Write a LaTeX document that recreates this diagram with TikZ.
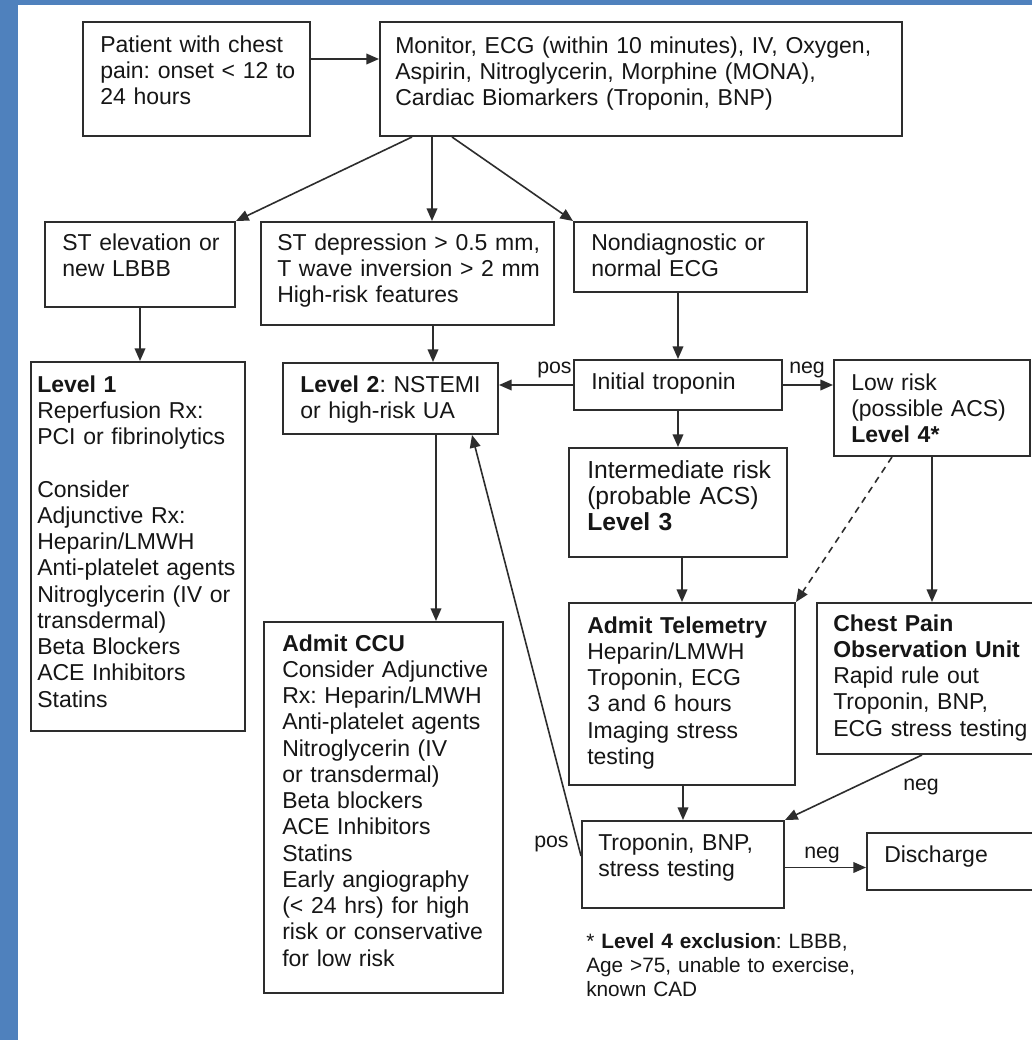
\documentclass[tikz,border=0pt]{standalone}
\usepackage{fontspec}
\setmainfont{Liberation Sans}
\usetikzlibrary{arrows.meta,calc,fit}
\definecolor{frameblue}{RGB}{79,129,189}
\definecolor{ink}{RGB}{22,22,22}
\definecolor{edge}{RGB}{45,45,45}
\frenchspacing
\begin{document}
\begin{tikzpicture}[x=0.75pt,y=-0.75pt,
  box/.style={draw=edge,line width=1.5pt,inner sep=0pt},
  txt/.style={anchor=base west,inner sep=0pt,align=left,text=ink,text width=#1,
    font=\fontsize{17.25pt}{19.7pt}\selectfont},
  bigtxt/.style={txt=#1,font=\fontsize{18.5pt}{19.6pt}\selectfont},
  notetxt/.style={txt=#1,font=\fontsize{15.6pt}{18pt}\selectfont},
  lbl/.style={anchor=base west,inner sep=0pt,text=ink,font=\fontsize{16pt}{18pt}\selectfont},
  arr/.style={draw=edge,line width=1.2pt,-{Triangle[length=9.5pt,width=8pt]}},
  dasharr/.style={arr,dash pattern=on 5pt off 4pt}]

\useasboundingbox (0,0) rectangle (1032,1040);
\clip (0,0) rectangle (1032,1040);
\fill[white] (0,0) rectangle (1032,1040);

% frame strips
\fill[frameblue] (0,0) rectangle (18,1040);
\fill[frameblue] (0,0) rectangle (1032,5);

% boxes
\node[box,fit={(83,22) (310,136)}]   (A) {};
\node[box,fit={(380,22) (902,136)}]  (B) {};
\node[box,fit={(45,222) (235,307)}]  (C) {};
\node[box,fit={(261,222) (554,325)}] (D) {};
\node[box,fit={(574,222) (807,292)}] (E) {};
\node[box,fit={(31,362) (245,731)}]  (L1) {};
\node[box,fit={(283,363) (498,434)}] (L2) {};
\node[box,fit={(574,360) (782,410)}] (IT) {};
\node[box,fit={(834,360) (1030,456)}] (LR) {};
\node[box,fit={(569,448) (787,557)}] (IR) {};
\node[box,fit={(569,603) (795,785)}] (TL) {};
\node[box,fit={(817,603) (1045,754)}] (OU) {};
\node[box,fit={(264,622) (503,993)}] (CCU) {};
\node[box,fit={(582,821) (784,908)}] (TB) {};
\node[box,fit={(867,833) (1045,890)}] (DC) {};

% box texts
\node[txt=154pt] (At) at (100,52) {Patient with chest\\pain: onset < 12 to\\24 hours};
\node[txt=375pt] (Bt) at (395,53) {Monitor, ECG (within 10 minutes), IV, Oxygen,\\Aspirin, Nitroglycerin, Morphine (MONA),\\Cardiac Biomarkers (Troponin, BNP)};
\node[txt=128pt] (Ct) at (62,250) {ST elevation or\\new LBBB};
\node[txt=205pt] (Dt) at (277,250) {ST depression > 0.5 mm,\\T wave inversion > 2 mm\\High-risk features};
\node[txt=158pt] (Et) at (591,250) {Nondiagnostic or\\normal ECG};
\node[txt=154pt] (L1t) at (37,392) {\textbf{Level 1}\\Reperfusion Rx:\\PCI or fibrinolytics\\[19.7pt]Consider\\Adjunctive Rx:\\Heparin/LMWH\\Anti-platelet agents\\Nitroglycerin (IV or\\transdermal)\\Beta Blockers\\ACE Inhibitors\\Statins};
\node[txt=146pt] (L2t) at (300,392) {\textbf{Level 2}: NSTEMI\\or high-risk UA};
\node[txt=142pt] (ITt) at (591,389) {Initial troponin};
\node[txt=134pt] (LRt) at (851,390) {Low risk\\(possible ACS)\\\textbf{Level 4*}};
\node[bigtxt=149pt] (IRt) at (587,478) {Intermediate risk\\(probable ACS)\\\textbf{Level 3}};
\node[txt=154pt] (TLt) at (587,633) {\textbf{Admit Telemetry}\\Heparin/LMWH\\Troponin, ECG\\3 and 6 hours\\Imaging stress\\testing};
\node[txt=150pt] (OUt) at (833,631) {\textbf{Chest Pain}\\\textbf{Observation Unit}\\Rapid rule out\\Troponin, BNP,\\ECG stress testing};
\node[txt=165pt] (CCUt) at (282,651) {\textbf{Admit CCU}\\Consider Adjunctive\\Rx: Heparin/LMWH\\Anti-platelet agents\\Nitroglycerin (IV\\or transdermal)\\Beta blockers\\ACE Inhibitors\\Statins\\Early angiography\\(< 24 hrs) for high\\risk or conservative\\for low risk};
\node[txt=139pt] (TBt) at (598,850) {Troponin, BNP,\\stress testing};
\node[txt=105pt] (DCt) at (884,862) {Discharge};
\node[notetxt=225pt] (note) at (586,948) {* \textbf{Level 4 exclusion}: LBBB,\\Age >75, unable to exercise,\\known CAD};

% connectors
\draw[arr] ($(A.north east)+(0,38)$) -- ($(A.north east -| B.west)+(0,38)$);
\draw[arr] ($(B.south west)+(33,0)$) -- (C.north east);
\draw[arr] ($(B.south west)+(53,0)$) -- ($(D.north west)+(172,0)$);
\draw[arr] ($(B.south west)+(73,0)$) -- (E.north west);
\draw[arr] (C.south) -- (C.south |- L1.north);
\draw[arr] ($(D.south west)+(173,0)$) -- ($(L2.north west)+(151,0)$);
\draw[arr] (IT.north |- E.south) -- (IT.north);
\draw[arr] (IT.west) -- (IT.west -| L2.east);
\draw[arr] (IT.east) -- (IT.east -| LR.west);
\draw[arr] (IT.south) -- (IT.south |- IR.north);
\draw[arr] (IR.south -| TL.north) -- (TL.north);
\draw[dasharr] ($(LR.south west)+(59,0)$) -- (TL.north east);
\draw[arr] (LR.south) -- (LR.south |- OU.north);
\draw[arr] ($(L2.south west)+(154,0)$) -- ($(CCU.north west)+(173,0)$);
\draw[arr] (TL.south -| TB.north) -- (TB.north);
\draw[arr] ($(OU.south west)+(106,0)$) -- (TB.north east);
\draw[arr] ($(TB.east)+(0,3)$) -- ($(TB.east -| DC.west)+(0,3)$);
\draw[arr] ($(TB.north west)+(0,36)$) -- ($(L2.south west)+(190,0)$);

% connector labels
\node[lbl] (posA) at (537,373) {pos};
\node[lbl] (negA) at (789,373) {neg};
\node[lbl] (negB) at (903,790) {neg};
\node[lbl] (negC) at (804,858) {neg};
\node[lbl] (posB) at (534,847) {pos};
\end{tikzpicture}
\end{document}
